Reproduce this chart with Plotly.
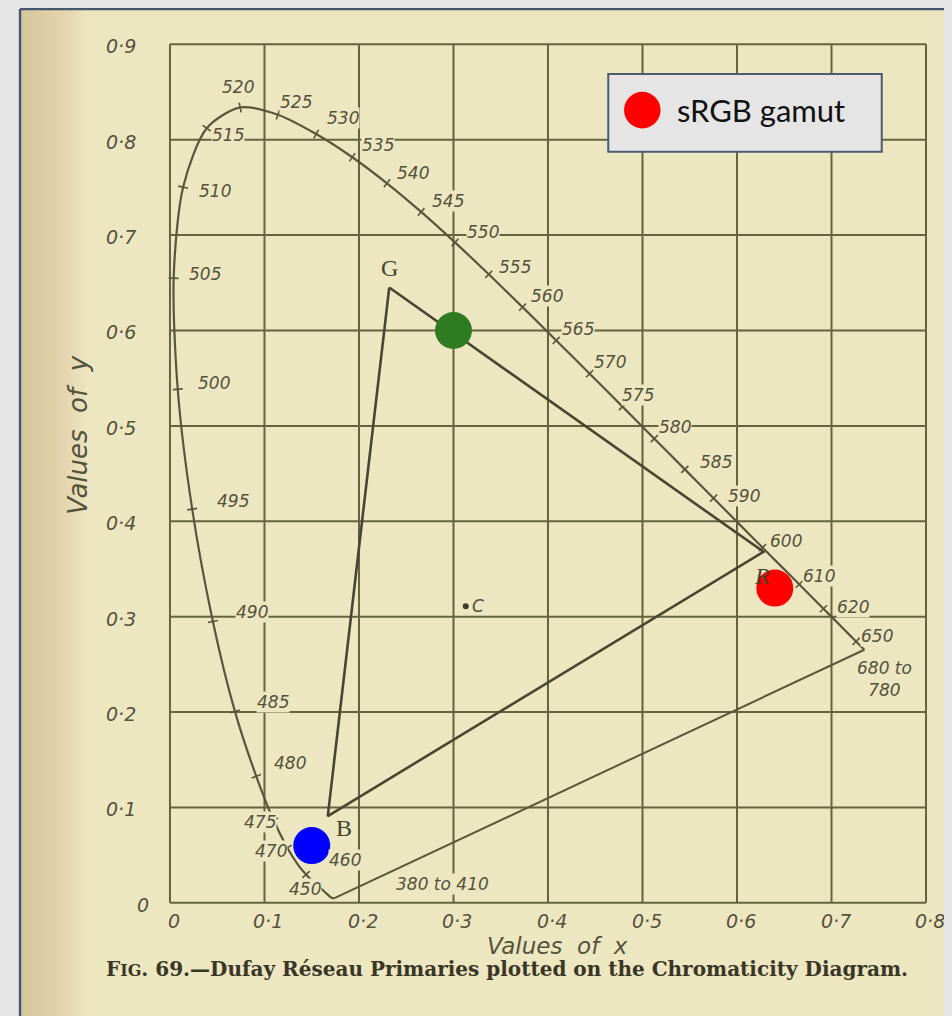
import math
import plotly.graph_objects as go

# ---------------- data ----------------
# Spectral locus as drawn on the scanned diagram (wavelength nm, x, y)
WAVELENGTHS = [380, 420, 430, 440, 450, 455, 460, 465, 470, 475, 480, 485, 490, 495,
               500, 505, 510, 515, 520, 525, 530, 535, 540, 545, 550, 555, 560, 565,
               570, 575, 580, 585, 590, 595, 600, 605, 610, 620, 630, 640, 650, 680]
LOCUS_X = [0.1741, 0.1714, 0.1689, 0.1644, 0.1566, 0.1510, 0.1440, 0.1355, 0.1241, 0.1096,
           0.0913, 0.0687, 0.0454, 0.0235, 0.0082, 0.0039, 0.0139, 0.0389, 0.0743, 0.1142,
           0.1547, 0.1929, 0.2296, 0.2658, 0.3016, 0.3373, 0.3731, 0.4087, 0.4441, 0.4788,
           0.5125, 0.5448, 0.5752, 0.6029, 0.6270, 0.6482, 0.6658, 0.6915, 0.7079, 0.7190,
           0.7260, 0.7347]
LOCUS_Y = [0.0050, 0.0051, 0.0069, 0.0109, 0.0177, 0.0227, 0.0297, 0.0399, 0.0578, 0.0868,
           0.1327, 0.2007, 0.2950, 0.4127, 0.5384, 0.6548, 0.7502, 0.8120, 0.8338, 0.8262,
           0.8059, 0.7816, 0.7543, 0.7243, 0.6923, 0.6589, 0.6245, 0.5896, 0.5547, 0.5202,
           0.4866, 0.4544, 0.4242, 0.3965, 0.3725, 0.3514, 0.3340, 0.3083, 0.2920, 0.2809,
           0.2740, 0.2653]

TICK_WAVELENGTHS = [450, 460, 470, 475, 480, 485, 490, 495, 500, 505, 510, 515, 520, 525,
                    530, 535, 540, 545, 550, 555, 560, 565, 570, 575, 580, 585, 590, 600,
                    610, 620, 650]

# Dufay Réseau primaries (triangle)
DUFAY_NAMES = ["G", "R", "B"]
DUFAY_X = [0.232, 0.628, 0.167]
DUFAY_Y = [0.645, 0.368, 0.091]

# Illuminant C
ILLUM_C_X = [0.313]
ILLUM_C_Y = [0.311]

# sRGB primaries overlay
SRGB_NAMES = ["Red", "Green", "Blue"]
SRGB_X = [0.64, 0.30, 0.15]
SRGB_Y = [0.33, 0.60, 0.06]

# printed grid / tick labels
X_TICKS = [0.0, 0.1, 0.2, 0.3, 0.4, 0.5, 0.6, 0.7, 0.8]
X_TICK_LABELS = ["0", "0·1", "0·2", "0·3", "0·4", "0·5", "0·6", "0·7", "0·8"]
Y_TICKS = [0.0, 0.1, 0.2, 0.3, 0.4, 0.5, 0.6, 0.7, 0.8, 0.9]
Y_TICK_LABELS = ["0", "0·1", "0·2", "0·3", "0·4", "0·5", "0·6", "0·7", "0·8", "0·9"]

# ---------------- layout helpers (styling only) ----------------
# label placement for wavelength annotations: (wavelength, text, xshift px, yshift px)
WL_LABEL_STYLE = [
    (520, "520", -2, 20), (525, "525", 18, 13), (530, "530", 27, 16), (535, "535", 26, 12),
    (540, "540", 26, 10), (545, "545", 27, 11), (550, "550", 28, 10), (555, "555", 26, 7),
    (560, "560", 24, 11), (565, "565", 22, 11), (570, "570", 20, 12), (575, "575", 16, 12),
    (580, "580", 21, 12), (585, "585", 31, 7), (590, "590", 30, 2), (600, "600", 23, 7),
    (610, "610", 20, 8), (620, "620", 30, 2), (650, "650", 21, 5),
    (680, "680 to<br>780", 20, -29),
    (515, "515", 21, -7), (510, "510", 32, -4), (505, "505", 31, 4), (500, "500", 36, 6),
    (495, "495", 41, 8), (490, "490", 39, 9), (485, "485", 38, 9), (480, "480", 34, 13),
    (475, "475", -14, -2), (470, "470", -16, -3), (460, "460", 39, 15), (450, "450", -13, -3),
    (380, "380 to 410", 108, 14),
]
DUFAY_LABEL_SHIFT = {"G": (0, 20), "R": (-1, -24), "B": (16, -12)}

PAPER = "#ece6c1"
INK = "#55523c"
LINE = "#5a5739"
SX, SY = 945.0, 953.0   # px per unit used to orient small tick marks

X_RANGE = [-0.1587, 0.8275]
Y_RANGE = [-0.1186, 0.9370]

fig = go.Figure()

# grid of the printed diagram
gx, gy = [], []
for xv in X_TICKS:
    gx += [xv, xv, None]
    gy += [Y_TICKS[0], Y_TICKS[-1], None]
for yv in Y_TICKS:
    gx += [X_TICKS[0], X_TICKS[-1], None]
    gy += [yv, yv, None]
fig.add_trace(go.Scatter(x=gx, y=gy, mode="lines", line=dict(color="#66633f", width=2),
                         hoverinfo="skip", showlegend=False))

# spectral locus
fig.add_trace(go.Scatter(x=LOCUS_X, y=LOCUS_Y, mode="lines",
                         line=dict(color=LINE, width=2.2, shape="spline", smoothing=0.8),
                         hoverinfo="skip", showlegend=False))
# purple line
fig.add_trace(go.Scatter(x=[LOCUS_X[-1], LOCUS_X[0]], y=[LOCUS_Y[-1], LOCUS_Y[0]], mode="lines",
                         line=dict(color=LINE, width=2), hoverinfo="skip", showlegend=False))

# tick marks on the locus
tx, ty = [], []
for w in TICK_WAVELENGTHS:
    i = WAVELENGTHS.index(w)
    a = max(i - 1, 0)
    b = min(i + 1, len(WAVELENGTHS) - 1)
    dX = (LOCUS_X[b] - LOCUS_X[a]) * SX
    dY = (LOCUS_Y[b] - LOCUS_Y[a]) * SY
    n = math.hypot(dX, dY) or 1.0
    nX, nY = -dY / n, dX / n
    L = 5.0
    tx += [LOCUS_X[i] - nX * L / SX, LOCUS_X[i] + nX * L / SX, None]
    ty += [LOCUS_Y[i] - nY * L / SY, LOCUS_Y[i] + nY * L / SY, None]
fig.add_trace(go.Scatter(x=tx, y=ty, mode="lines", line=dict(color=LINE, width=1.6),
                         hoverinfo="skip", showlegend=False))

# Dufay triangle
fig.add_trace(go.Scatter(x=DUFAY_X + [DUFAY_X[0]], y=DUFAY_Y + [DUFAY_Y[0]], mode="lines",
                         line=dict(color="#49462f", width=2.6), hoverinfo="skip",
                         showlegend=False))

# illuminant C dot
fig.add_trace(go.Scatter(x=ILLUM_C_X, y=ILLUM_C_Y, mode="markers",
                         marker=dict(color="#3e3b2a", size=6), hoverinfo="skip",
                         showlegend=False))

# sRGB gamut markers
fig.add_trace(go.Scatter(x=SRGB_X, y=SRGB_Y, mode="markers", name="sRGB gamut",
                         text=SRGB_NAMES,
                         marker=dict(color=["#ff0000", "#2e7b22", "#0000ff"], size=37),
                         showlegend=False))

annotations = []
lab_font = dict(family="DejaVu Sans", size=17, color=INK, style="italic")
for w, txt, xs, ys in WL_LABEL_STYLE:
    i = WAVELENGTHS.index(w)
    annotations.append(dict(x=LOCUS_X[i], y=LOCUS_Y[i], text=txt, showarrow=False,
                            xshift=xs, yshift=ys, font=lab_font, bgcolor=PAPER,
                            borderpad=0, align="center"))

for name, xv, yv in zip(DUFAY_NAMES, DUFAY_X, DUFAY_Y):
    xs, ys = DUFAY_LABEL_SHIFT[name]
    annotations.append(dict(x=xv, y=yv, text=name, showarrow=False, xshift=xs, yshift=ys,
                            font=dict(family="Liberation Serif", size=24, color="#45422e",
                                      style="italic" if name == "R" else "normal")))

annotations.append(dict(x=ILLUM_C_X[0], y=ILLUM_C_Y[0], text="C", showarrow=False,
                        xshift=12, yshift=0,
                        font=dict(family="DejaVu Sans", size=17, color=INK, style="italic")))

tick_font = dict(family="DejaVu Sans", size=19, color=INK, style="italic")
for xv, t in zip(X_TICKS, X_TICK_LABELS):
    annotations.append(dict(x=xv, y=0, text=t, showarrow=False, yshift=-18, xshift=4,
                            font=tick_font))
for yv, t in zip(Y_TICKS, Y_TICK_LABELS):
    annotations.append(dict(x=0, y=yv, text=t, showarrow=False, xshift=-49 if t != "0" else -27,
                            yshift=-2, font=tick_font))

# axis titles & caption of the printed figure
annotations.append(dict(x=-0.097, y=0.49, text="Values  of  y", showarrow=False, textangle=-90,
                        font=dict(family="DejaVu Sans", size=26, color=INK, style="italic")))
annotations.append(dict(x=0.41, y=0, yshift=-43, text="Values  of  x", showarrow=False,
                        font=dict(family="DejaVu Sans", size=23, color=INK, style="italic")))
annotations.append(dict(x=0.357, y=0, yshift=-66,
                        text="F<span style='font-size:16px'>IG</span>. 69.—Dufay Réseau Primaries plotted on the Chromaticity Diagram.",
                        showarrow=False,
                        font=dict(family="DejaVu Serif", size=20, color="#3a3626", weight="bold")))

# legend box (drawn)
annotations.append(dict(xref="paper", yref="paper", x=0.7028, y=0.8996, xanchor="left",
                        yanchor="middle", text="sRGB gamut", showarrow=False,
                        font=dict(family="Lato", size=31, color="#111111")))

shapes = []
# left darkening of the scanned page
for k in range(24):
    shapes.append(dict(type="rect", xref="paper", yref="paper", x0=0, x1=0.003 * (k + 1),
                       y0=0, y1=1, line=dict(width=0), fillcolor="rgba(222,178,118,0.022)",
                       layer="below"))
# plot frame (left & top visible)
shapes.append(dict(type="line", xref="paper", yref="paper", x0=0, x1=0, y0=0, y1=1,
                   line=dict(color="#46546e", width=2.4)))
shapes.append(dict(type="line", xref="paper", yref="paper", x0=0, x1=1, y0=1, y1=1,
                   line=dict(color="#46546e", width=2.4)))
# legend
shapes.append(dict(type="rect", xref="paper", yref="paper", x0=0.6312, x1=0.9246,
                   y0=0.8582, y1=0.9354, fillcolor="#e5e5e5",
                   line=dict(color="#4d5a70", width=2)))
shapes.append(dict(type="circle", xref="paper", yref="paper", x0=0.6481, x1=0.6873,
                   y0=0.8814, y1=0.9178, fillcolor="#ff0000", line=dict(width=0)))

fig.update_layout(
    width=944, height=1008,
    margin=dict(l=12, r=0, t=1, b=0),
    paper_bgcolor="#e6e6e6",
    plot_bgcolor=PAPER,
    showlegend=False,
    xaxis=dict(range=X_RANGE, visible=False, fixedrange=True),
    yaxis=dict(range=Y_RANGE, visible=False, fixedrange=True),
    annotations=annotations,
    shapes=shapes,
)

fig.write_html("out.html", post_script="document.body.style.background='#e6e6e6';")
